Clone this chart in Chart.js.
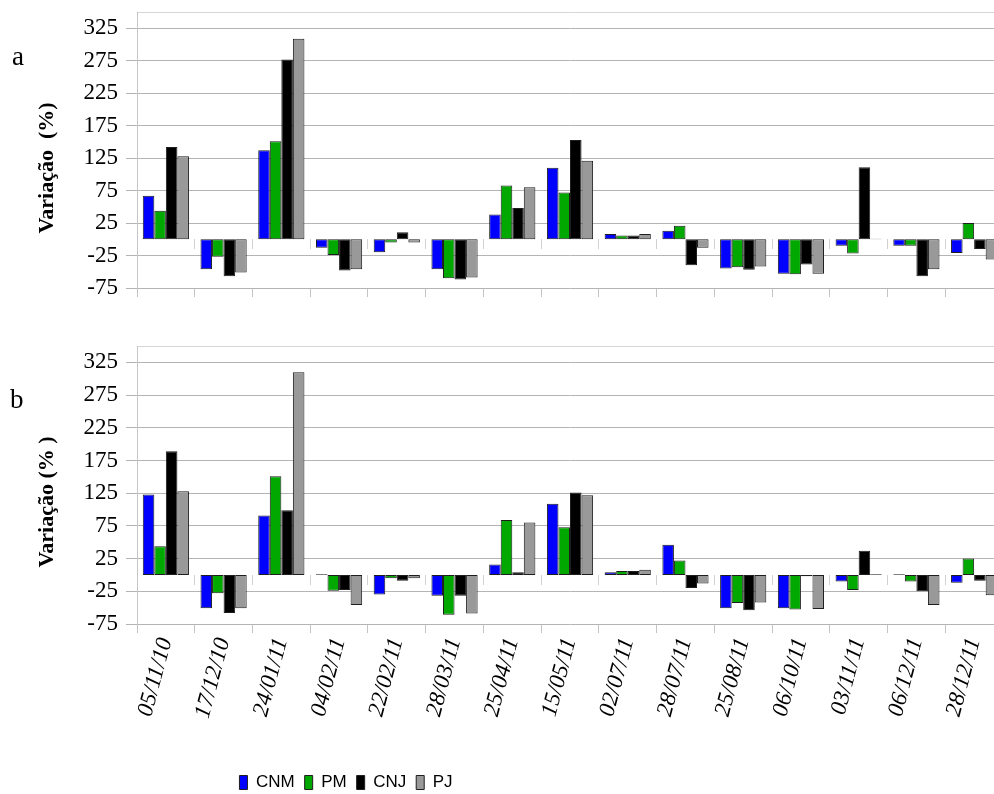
<!DOCTYPE html>
<html>
<head>
<meta charset="utf-8">
<script src="https://cdn.jsdelivr.net/npm/chart.js@4/dist/chart.umd.min.js"></script>
<style>
  html, body { margin: 0; padding: 0; background: #ffffff; overflow: hidden; }
  #wrap { position: relative; width: 994px; height: 794px; overflow: hidden; background: #ffffff; }
  #chartA { position: absolute; left: 0; top: 0; }
  #chartB { position: absolute; left: 0; top: 334px; }
</style>
</head>
<body>
<div id="wrap">
  <canvas id="chartA" width="1012" height="300"></canvas>
  <canvas id="chartB" width="1012" height="460"></canvas>
</div>
<script>
// Sampling dates (category axis)
const categories = ['05/11/10', '17/12/10', '24/01/11', '04/02/11', '22/02/11', '28/03/11', '25/04/11',
  '15/05/11', '02/07/11', '28/07/11', '25/08/11', '06/10/11', '03/11/11', '06/12/11', '28/12/11'];

const seriesNames = ['CNM', 'PM', 'CNJ', 'PJ'];
const seriesColors = ['#0000ff', '#00a800', '#000000', '#999999'];

// Panel a – variation (%)
const cnmA = [67, -46, 137, -13, -20, -46, 38, 110, 8, 13, -45, -53, -10, -10, -21];
const pmA  = [44, -27, 151, -24, -5, -60, 83, 72, 6, 21, -43, -54, -22, -10, 25];
const cnjA = [142, -57, 277, -48, 11, -62, 48, 153, 6, -40, -47, -39, 111, -57, -15];
const pjA  = [128, -51, 309, -46, -5, -59, 80, 121, 8, -13, -42, -53, 1, -46, -31];

// Panel b – variation (%)
const cnmB = [123, -51, 91, 1, -30, -32, 16, 109, 4, 46, -51, -51, -10, 1, -12];
const pmB  = [44, -28, 151, -24, -5, -61, 84, 73, 6, 22, -43, -53, -23, -10, 25];
const cnjB = [189, -58, 99, -23, -9, -32, 4, 126, 6, -20, -54, -2, 37, -25, -9];
const pjB  = [128, -51, 310, -46, -5, -59, 80, 122, 8, -13, -42, -52, 1, -46, -31];

// Value axis
const yTicks = [-75, -25, 25, 75, 125, 175, 225, 275, 325];
const yMin = -75;
const yMax = 350;

const serif = '"Liberation Serif", "Times New Roman", serif';

// Draws the panel letter and the rotated value-axis title
const panelText = {
  id: 'panelText',
  afterDraw(chart, args, opts) {
    const ctx = chart.ctx;
    ctx.save();
    ctx.fillStyle = '#000';
    ctx.font = '27px ' + serif;
    ctx.textAlign = 'left';
    ctx.textBaseline = 'alphabetic';
    ctx.fillText(opts.letter, opts.letterX, opts.letterY);
    ctx.translate(opts.titleX, opts.titleY);
    ctx.rotate(-Math.PI / 2);
    ctx.font = 'bold 22px ' + serif;
    ctx.textAlign = 'center';
    ctx.textBaseline = 'middle';
    ctx.fillText(opts.title, 0, 0);
    ctx.restore();
  }
};

// Places the legend block under the left part of the plot
const legendPlace = {
  id: 'legendPlace',
  afterLayout(chart, args, opts) {
    const lg = chart.legend;
    if (!lg || !lg.options.display) return;
    const h = lg.height;
    lg.left = opts.centerX - 300;
    lg.right = opts.centerX + 300;
    lg.top = opts.top;
    lg.bottom = opts.top + h;
  }
};

function noPadding(scale) {
  scale.paddingTop = 0;
  scale.paddingBottom = 0;
  scale.paddingLeft = 0;
  scale.paddingRight = 0;
}

function buildChart(canvasId, values, cfg) {
  const datasets = values.map((vals, i) => ({
    label: seriesNames[i],
    data: vals,
    backgroundColor: seriesColors[i],
    borderColor: '#1e1e1e',
    borderWidth: 1,
    borderSkipped: false,
    categoryPercentage: 0.8,
    barPercentage: 1.0
  }));

  return new Chart(document.getElementById(canvasId), {
    type: 'bar',
    data: { labels: categories, datasets },
    plugins: [panelText, legendPlace],
    options: {
      responsive: false,
      animation: false,
      events: [],
      layout: { padding: { left: 0, right: 9, top: 12, bottom: 0 } },
      plugins: {
        tooltip: { enabled: false },
        title: { display: false },
        legend: {
          display: cfg.legend,
          position: 'bottom',
          labels: {
            boxWidth: 8,
            boxHeight: 14,
            padding: 10,
            color: '#000',
            font: { family: '"Liberation Sans Narrow", "Liberation Sans", Arial, sans-serif', size: 17 }
          }
        },
        panelText: cfg.text,
        legendPlace: { centerX: 346, top: 430 }
      },
      scales: {
        x: {
          type: 'category',
          position: 'bottom',
          offset: true,
          grid: { display: true, drawOnChartArea: false, drawTicks: true, tickLength: 9, color: '#c4c4c4', offset: true },
          border: { display: false },
          ticks: {
            display: cfg.xLabels,
            autoSkip: false,
            maxRotation: 75,
            minRotation: 75,
            padding: 2,
            color: '#000',
            font: { family: serif, size: 23, style: 'italic' }
          },
          afterFit(scale) { scale.height = cfg.xHeight; noPadding(scale); }
        },
        x0: {
          type: 'category',
          axis: 'x',
          position: { y: 0 },
          offset: true,
          grid: { display: true, drawOnChartArea: false, drawTicks: true, tickLength: 10, color: '#d2d2d2', offset: true },
          border: { display: false },
          ticks: { display: false },
          afterFit(scale) { noPadding(scale); }
        },
        y: {
          type: 'linear',
          position: 'left',
          min: yMin,
          max: yMax,
          afterBuildTicks(scale) {
            scale.ticks = yTicks.concat([yMax]).map(v => ({ value: v }));
          },
          afterFit(scale) { scale.width = 137; noPadding(scale); },
          grid: {
            color: c => (c.tick && c.tick.value === yMax) ? '#d6d6d6' : '#b4b4b4',
            tickColor: c => (c.tick && c.tick.value === yMax) ? 'rgba(0,0,0,0)' : '#b4b4b4',
            lineWidth: 1,
            tickLength: 11,
            drawTicks: true
          },
          border: { display: true, color: '#c6c6c6', width: 1 },
          ticks: {
            autoSkip: false,
            padding: 8,
            color: '#000',
            font: { family: serif, size: 23 },
            callback: v => (yTicks.includes(v) ? String(v) : '')
          }
        }
      }
    }
  });
}

buildChart('chartA', [cnmA, pmA, cnjA, pjA], {
  legend: false,
  xLabels: false,
  xHeight: 12,
  text: { letter: 'a', letterX: 12, letterY: 65, title: 'Variação  (%)', titleX: 47, titleY: 168 }
});

buildChart('chartB', [cnmB, pmB, cnjB, pjB], {
  legend: true,
  xLabels: true,
  xHeight: 133,
  text: { letter: 'b', letterX: 10, letterY: 74, title: 'Variação (% )', titleX: 47, titleY: 168 }
});
</script>
</body>
</html>
